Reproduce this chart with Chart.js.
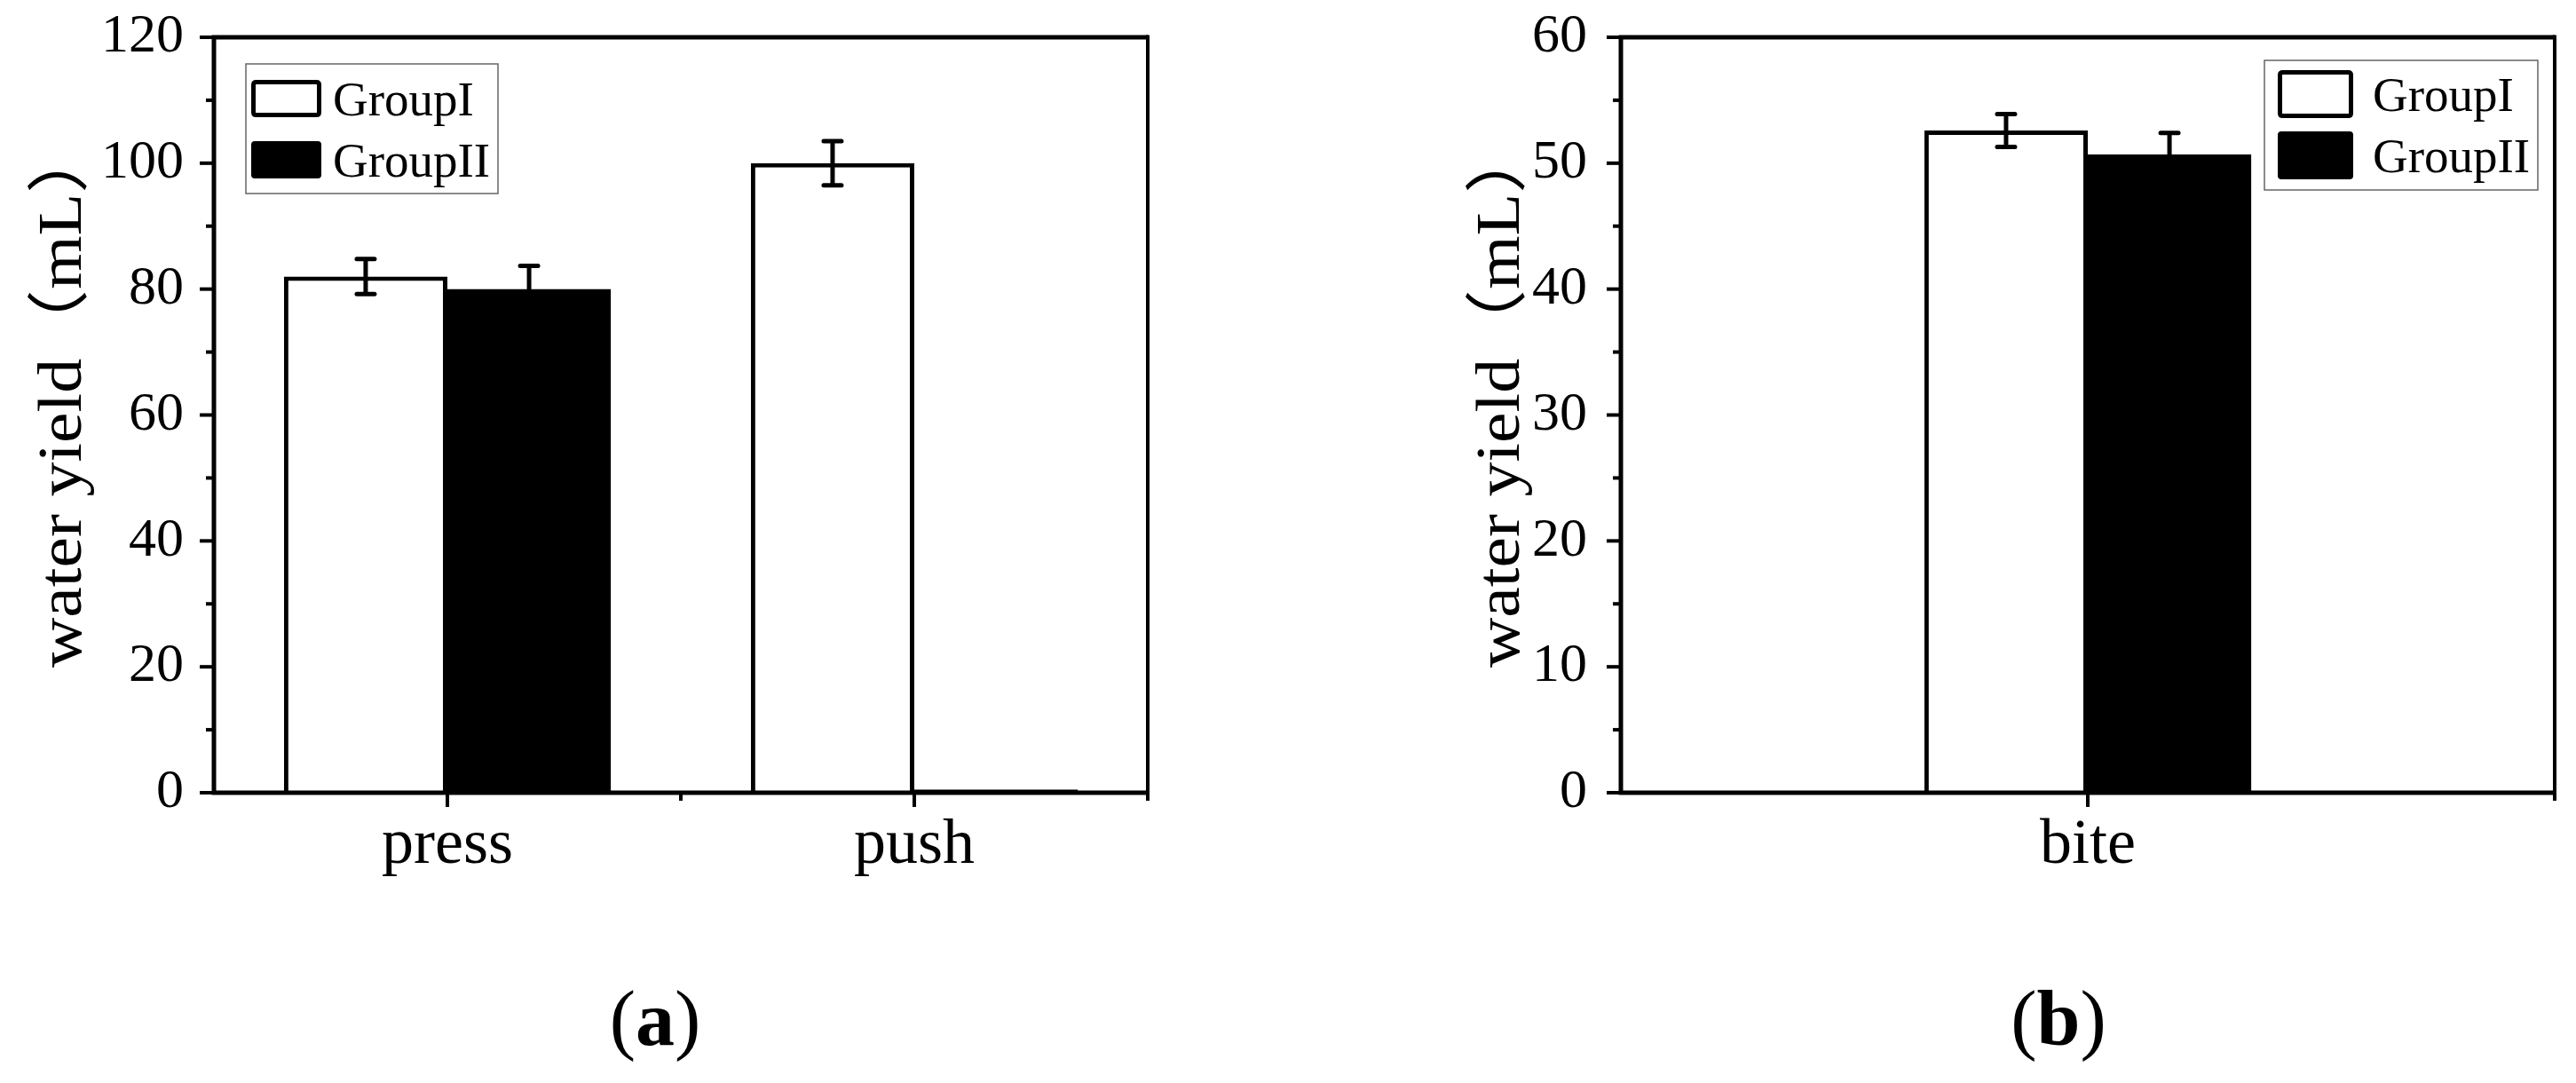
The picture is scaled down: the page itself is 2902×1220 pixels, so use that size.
<!DOCTYPE html>
<html><head><meta charset="utf-8">
<script src="https://cdn.jsdelivr.net/npm/chart.js@4/dist/chart.umd.min.js"></script>
<style>
html,body{margin:0;padding:0;background:#fff;width:2902px;height:1220px;overflow:hidden;}
#wa{position:absolute;left:0;top:0;width:1400px;height:1060px;}
#wb{position:absolute;left:1450px;top:0;width:1452px;height:1060px;}
.lab{position:absolute;top:1104px;font-family:"Liberation Serif",serif;font-size:88px;line-height:88px;transform:translateX(-50%);white-space:nowrap;color:#000}
</style></head><body>
<div id="wa"><canvas id="ca"></canvas></div>
<div id="wb"><canvas id="cb"></canvas></div>
<div class="lab" style="left:738px">(<b>a</b>)</div>
<div class="lab" style="left:2319px">(<b>b</b>)</div>
<script>
// ---- data ----
const seriesNames = ['GroupI', 'GroupII'];
const yTitle = 'water yield（mL）';
const categoriesA = ['press', 'push'];
const groupIA = [82, 100];
const groupIIA = [80, 0.5];
const errIA = [2.8, 3.5];
const errIIA = [3.7, 0];
const yTicksA = {min: 0, max: 120, step: 20, minor: 10};

const categoriesB = ['bite'];
const groupIB = [52.6];
const groupIIB = [50.7];
const errIB = [1.3];
const errIIB = [1.7];
const yTicksB = {min: 0, max: 60, step: 10, minor: 5};

const FONT = '"Liberation Serif", "Times New Roman", serif';
const TITLE_FONT = '"Liberation Serif", "Noto Sans CJK SC", serif';

function roundRect(ctx, x, y, w, h, r) {
  ctx.beginPath();
  ctx.moveTo(x + r, y);
  ctx.lineTo(x + w - r, y); ctx.quadraticCurveTo(x + w, y, x + w, y + r);
  ctx.lineTo(x + w, y + h - r); ctx.quadraticCurveTo(x + w, y + h, x + w - r, y + h);
  ctx.lineTo(x + r, y + h); ctx.quadraticCurveTo(x, y + h, x, y + h - r);
  ctx.lineTo(x, y + r); ctx.quadraticCurveTo(x, y, x + r, y);
  ctx.closePath();
}

const decor = {
  id: 'decor',
  afterDatasetsDraw(chart, args, o) {
    const ctx = chart.ctx, a = chart.chartArea, xs = chart.scales.x, ys = chart.scales.y;
    ctx.save();
    ctx.strokeStyle = '#000';
    // error bars
    ctx.lineCap = 'round'; ctx.lineWidth = 5;
    o.errors.forEach((errs, di) => {
      const meta = chart.getDatasetMeta(di);
      const vals = chart.data.datasets[di].data;
      meta.data.forEach((bar, i) => {
        const e = errs[i]; if (!e) return;
        const yt = ys.getPixelForValue(vals[i] + e), yb = ys.getPixelForValue(vals[i] - e);
        ctx.beginPath();
        ctx.moveTo(bar.x, yt); ctx.lineTo(bar.x, yb);
        ctx.moveTo(bar.x - 10, yt); ctx.lineTo(bar.x + 10, yt);
        ctx.moveTo(bar.x - 10, yb); ctx.lineTo(bar.x + 10, yb);
        ctx.stroke();
      });
    });
    ctx.lineCap = 'butt';
    // frame
    ctx.lineWidth = 5;
    ctx.beginPath();
    ctx.moveTo(a.left, a.top); ctx.lineTo(a.right, a.top);
    ctx.moveTo(a.left, a.top - 2.5); ctx.lineTo(a.left, a.bottom + 2.5);
    ctx.moveTo(a.left - 2.5, a.bottom); ctx.lineTo(a.right + 2, a.bottom);
    ctx.stroke();
    ctx.lineWidth = 4;
    ctx.beginPath(); ctx.moveTo(a.right, a.top - 2.5); ctx.lineTo(a.right, a.bottom); ctx.stroke();
    // y ticks
    ctx.lineWidth = 4;
    const t = o.yt;
    for (let v = t.min; v <= t.max + 1e-9; v += t.minor) {
      const major = Math.abs(v / t.step - Math.round(v / t.step)) < 1e-6;
      const py = ys.getPixelForValue(v);
      ctx.beginPath(); ctx.moveTo(a.left, py); ctx.lineTo(a.left - (major ? 16 : 9), py); ctx.stroke();
    }
    // x ticks
    const n = chart.data.labels.length;
    for (let i = 0; i < n; i++) {
      const px = xs.getPixelForValue(i);
      ctx.beginPath(); ctx.moveTo(px, a.bottom); ctx.lineTo(px, a.bottom + 16); ctx.stroke();
    }
    for (let i = 1; i <= n; i++) {
      const px = xs.getPixelForValue(i - 0.5);
      ctx.beginPath(); ctx.moveTo(px, a.bottom); ctx.lineTo(px, a.bottom + 9); ctx.stroke();
    }
    // y axis title (rotated, stretched along the axis)
    const T = o.title;
    ctx.save();
    ctx.fillStyle = '#000';
    ctx.font = T.size + 'px ' + TITLE_FONT;
    ctx.textBaseline = 'middle';
    ctx.textAlign = 'left';
    const w = ctx.measureText(yTitle).width;
    ctx.translate(T.x, T.yStart);
    ctx.rotate(-Math.PI / 2);
    ctx.scale(T.len / w, 1);
    ctx.fillText(yTitle, 0, 0);
    ctx.restore();
    // legend
    const L = o.legend;
    ctx.strokeStyle = '#666'; ctx.lineWidth = 1.5;
    ctx.strokeRect(L.x, L.y, L.w, L.h);
    chart.data.datasets.forEach((ds, di) => {
      const cy = L.rows[di];
      const sy = cy - L.sh / 2;
      if (ds.backgroundColor === '#ffffff') {
        ctx.fillStyle = '#fff';
        roundRect(ctx, L.sx + 2.5, sy + 2.5, L.sw - 5, L.sh - 5, 3);
        ctx.fill();
        ctx.strokeStyle = '#000'; ctx.lineWidth = 5; ctx.stroke();
      } else {
        ctx.fillStyle = '#000';
        roundRect(ctx, L.sx, sy, L.sw, L.sh, 4);
        ctx.fill();
      }
      ctx.fillStyle = '#000';
      ctx.font = '55px ' + FONT;
      ctx.textBaseline = 'alphabetic';
      ctx.textAlign = 'left';
      ctx.fillText(ds.label, L.tx, cy + 19);
    });
    ctx.restore();
  }
};

function makeChart(id, cats, d1, d2, e1, e2, yt, opts) {
  return new Chart(document.getElementById(id), {
    type: 'bar',
    data: {
      labels: cats,
      datasets: [
        {label: seriesNames[0], data: d1, backgroundColor: '#ffffff', borderColor: '#000', borderWidth: 5,
         categoryPercentage: opts.catPct, barPercentage: 1},
        {label: seriesNames[1], data: d2, backgroundColor: '#000000', borderColor: '#000', borderWidth: 0,
         categoryPercentage: opts.catPct, barPercentage: 1}
      ]
    },
    options: {
      responsive: true, maintainAspectRatio: false, animation: false, events: [],
      layout: {padding: {top: 42, right: opts.padRight, left: 0, bottom: 0}},
      plugins: {
        legend: {display: false}, tooltip: {enabled: false},
        decor: {errors: [e1, e2], yt: yt, legend: opts.legend, title: opts.title}
      },
      scales: {
        x: {
          grid: {display: true, drawOnChartArea: false, drawTicks: true, tickLength: 17, color: 'rgba(0,0,0,0)'},
          border: {display: false},
          ticks: {color: '#000', font: {family: FONT, size: 72}, padding: 0},
          afterFit(s) { s.height = 167; }
        },
        y: {
          min: yt.min, max: yt.max,
          grid: {display: true, drawOnChartArea: false, drawTicks: true, tickLength: opts.tickPad, color: 'rgba(0,0,0,0)'},
          border: {display: false},
          ticks: {stepSize: yt.step, color: '#000', font: {family: FONT, size: 62}, padding: 0},
          afterFit(s) { s.width = opts.yWidth; }
        }
      }
    },
    plugins: [decor]
  });
}

makeChart('ca', categoriesA, groupIA, groupIIA, errIA, errIIA, yTicksA, {
  catPct: 0.70, padRight: 107, yWidth: 241, tickPad: 34,
  title: {x: 73, yStart: 752, len: 612, size: 70},
  legend: {x: 277, y: 72, w: 284, h: 146, sx: 283, sw: 79, sh: 42, rows: [111, 180], tx: 375}
});
makeChart('cb', categoriesB, groupIB, groupIIB, errIB, errIIB, yTicksB, {
  catPct: 0.35, padRight: 24, yWidth: 376, tickPad: 38,
  title: {x: 243, yStart: 752, len: 612, size: 70},
  legend: {x: 1101, y: 68, w: 308, h: 146, sx: 1116, sw: 85, sh: 54, rows: [106, 175], tx: 1223}
});
</script>
</body></html>
